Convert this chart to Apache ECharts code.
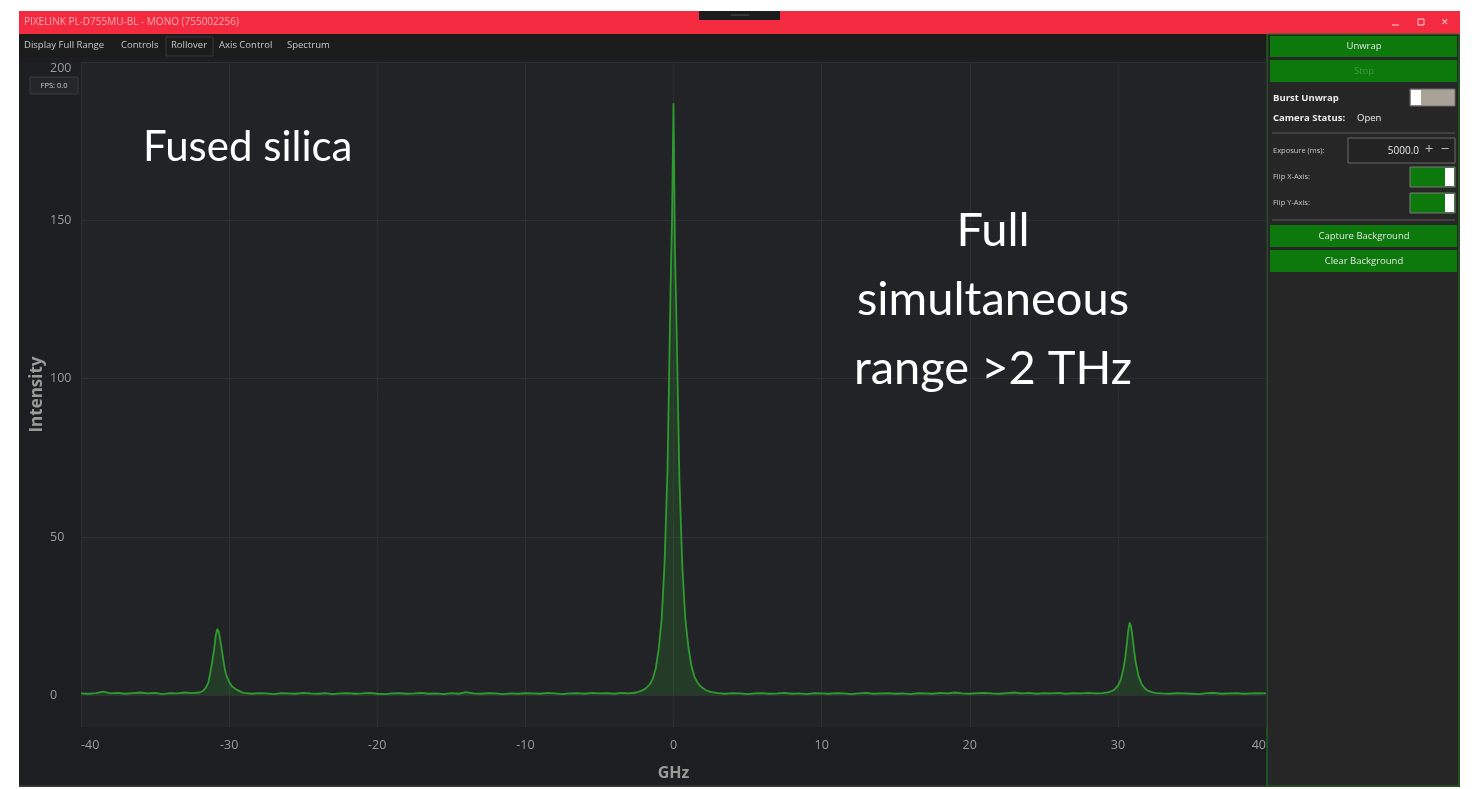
<!DOCTYPE html>
<html>
<head>
<meta charset="utf-8">
<title>Fused silica spectrum</title>
<script src="https://cdn.jsdelivr.net/npm/echarts@6/dist/echarts.min.js"></script>
<style>
html,body{margin:0;padding:0;background:#fff;}
#spectrum{width:1478px;height:789px;}
</style>
</head>
<body>
<div id="spectrum"></div>
<script>
var outerLeft = [[-40,0.6],[-39.5,0.5],[-39,0.7],[-38.5,1.2],[-38,0.6],[-37.5,0.8],[-37,0.5],[-36.5,0.7],
	[-36,0.9],[-35.5,0.6],[-35,0.8],[-34.5,0.4],[-34,0.7],[-33.5,0.6],[-33,0.9],[-32.5,0.7]];
var peakLeft = [[-32,0.9],[-31.8,1.3],[-31.6,2.2],[-31.4,4],[-31.3,6.5],[-31.2,9],[-31.1,12],[-31,15],[-30.9,19],
	[-30.8,21],[-30.7,20],[-30.6,17.5],[-30.5,14.5],[-30.4,11.5],[-30.3,8.5],[-30.2,6.5],[-30,4.2],[-29.8,2.8],
	[-29.5,1.8],[-29.2,1.1],[-29,0.8]];
var midLeft = [[-28.5,0.5],[-28,0.7],[-27.5,0.6],[-27,0.4],[-26.5,0.7],[-26,0.6],[-25.5,0.5],[-25,0.8],[-24.5,0.6],
	[-24,0.5],[-23.5,0.7],[-23,0.4],[-22.5,0.6],[-22,0.7],[-21.5,0.5],[-21,0.6],[-20.5,0.8],[-20,0.5],[-19.5,0.4],
	[-19,0.6],[-18.5,0.7],[-18,0.5],[-17.5,0.6],[-17,0.8],[-16.5,0.5],[-16,0.6],[-15.5,0.4],[-15,0.7],[-14.5,0.5],
	[-14,1.0],[-13.5,0.6],[-13,0.5],[-12.5,0.7],[-12,0.6],[-11.5,0.4],[-11,0.6],[-10.5,0.5],[-10,0.7],[-9.5,0.6],
	[-9,0.5],[-8.5,0.8],[-8,0.6],[-7.5,0.4],[-7,0.6],[-6.5,0.7],[-6,0.5],[-5.5,0.8],[-5,0.6],[-4.5,0.7],[-4,0.5],[-3.5,0.8]];
var peakCentre = [[-3,0.6],[-2.5,0.9],[-2.2,1.4],[-2,1.8],[-1.8,2.5],[-1.6,3.5],[-1.4,5.2],[-1.2,8.5],[-1,14.5],
	[-0.8,24],[-0.6,42],[-0.4,72],[-0.2,128],[-0.1,150],[0,187],[0.1,140],[0.2,118],[0.4,68],[0.6,40],[0.8,24],
	[1,15.5],[1.2,9.5],[1.4,6],[1.6,4.2],[1.8,3],[2,2.2],[2.2,1.6],[2.5,1.1],[3,0.7]];
var midRight = [[3.5,0.5],[4,0.7],[4.5,0.6],[5,0.4],[5.5,0.6],[6,0.7],[6.5,0.5],[7,0.6],[7.5,0.8],[8,0.5],[8.5,0.6],
	[9,0.4],[9.5,0.7],[10,0.6],[10.5,0.5],[11,0.7],[11.5,0.6],[12,0.4],[12.5,0.6],[13,0.8],[13.5,0.5],[14,0.6],
	[14.5,0.7],[15,0.5],[15.5,0.6],[16,0.4],[16.5,0.7],[17,0.6],[17.5,0.5],[18,0.8],[18.5,0.6],[19,0.9],[19.5,0.6],
	[20,0.5],[20.5,0.7],[21,0.8],[21.5,0.6],[22,0.5],[22.5,0.7],[23,0.9],[23.5,0.6],[24,0.8],[24.5,0.5],[25,0.7],
	[25.5,0.6],[26,0.8],[26.5,0.5],[27,0.7],[27.5,0.6],[28,0.8],[28.5,0.6]];
var peakRight = [[29,0.7],[29.4,1],[29.7,1.6],[30,3],[30.2,5],[30.4,9],[30.5,12],[30.6,16],[30.7,20.5],[30.8,23],
	[30.9,21.5],[31,18],[31.1,14],[31.2,10.5],[31.4,6],[31.6,3.6],[31.8,2.3],[32,1.5],[32.3,1],[32.6,0.7]];
var outerRight = [[33,0.6],[33.5,0.5],[34,0.7],[34.5,0.6],[35,0.5],[35.5,0.4],[36,0.7],[36.5,0.8],[37,0.5],
	[37.5,0.6],[38,0.7],[38.5,0.5],[39,0.6],[39.5,0.7],[40,0.6]];

var xTicks = [-40,-30,-20,-10,0,10,20,30,40];
var yTicks = [0,50,100,150,200];

var spectrum = [].concat(outerLeft, peakLeft, midLeft, peakCentre, midRight, peakRight, outerRight);

var uiFont = '"Open Sans", "Noto Sans", sans-serif';

function label(x, y, txt, size, color, align, weight){
	return {
		type:'text', silent:true, z:50,
		style:{x:x, y:y, text:txt, fontSize:size, fill:color, fontFamily:uiFont,
			align:align||'left', verticalAlign:'middle', fontWeight:weight||'normal'}
	};
}
function box(x, y, w, h, fill, stroke, z){
	return {
		type:'rect', silent:true, z:(z==null?-5:z),
		shape:{x:x, y:y, width:w, height:h},
		style:{fill:fill, stroke:stroke||null, lineWidth:1}
	};
}
function rule(x1, y1, x2, y2, color, z){
	return {
		type:'line', silent:true, z:(z==null?40:z),
		shape:{x1:x1, y1:y1, x2:x2, y2:y2},
		style:{stroke:color, lineWidth:1}
	};
}

function buildChrome(){
	var g = [];
	// window frame
	g.push(box(19, 11, 1441, 776, '#1d1e21', null, -10));
	g.push(box(19, 11, 1441, 23, '#f42b40', null, -4));
	g.push(box(699, 11, 81, 9, '#1c1c1e', null, -3));
	g.push(rule(731, 15, 749, 15, '#555'));
	g.push(label(24, 22.5, 'PIXELINK PL-D755MU-BL - MONO (755002256)', 10, '#f8a9b2'));
	g.push(rule(1392, 25, 1399, 25, '#f3d0d4'));
	g.push(box(1418, 19, 6, 6, null, '#f3d0d4', 45));
	g.push(label(1445, 22.5, '✕', 9, '#f3d0d4', 'center'));
	// menu
	g.push(box(19, 34, 1248, 24, '#1b1b1c', null, -4));
	g.push(label(24, 45.5, 'Display Full Range', 9.5, '#c8c8c8'));
	g.push(label(121, 45.5, 'Controls', 9.5, '#c8c8c8'));
	g.push(box(166, 37, 47, 19, null, '#38393c', 45));
	g.push(label(171, 45.5, 'Rollover', 9.5, '#c8c8c8'));
	g.push(label(219, 45.5, 'Axis Control', 9.5, '#c8c8c8'));
	g.push(label(287, 45.5, 'Spectrum', 9.5, '#c8c8c8'));
	g.push(rule(19, 786, 1267, 786, '#4a4a4a'));
	// fps
	g.push(box(30, 77, 48, 17, '#25262a', '#3a3b3f', 45));
	g.push(label(54, 85.5, 'FPS: 0.0', 7.5, '#d0d0d0', 'center'));
	// side panel
	g.push(box(1267, 34, 192, 752, '#262626', '#1f7f1f', -4));
	g.push(box(1270, 36, 187, 21, '#0d790d', null, 45));
	g.push(label(1364, 46.5, 'Unwrap', 9.5, '#e4e4e4', 'center'));
	g.push(box(1270, 60, 187, 22, '#0d790d', null, 45));
	g.push(label(1364, 71, 'Stop', 9.5, '#3d9a3d', 'center'));
	g.push(label(1273, 98, 'Burst Unwrap', 9.5, '#ececec', 'left', 'bold'));
	g.push(box(1410, 89, 45, 17, '#a9a397', '#6a6a6a', 45));
	g.push(box(1411, 90, 10, 15, '#ffffff', null, 46));
	g.push(label(1273, 118, 'Camera Status:', 9.5, '#ececec', 'left', 'bold'));
	g.push(label(1357, 118, 'Open', 9.5, '#ececec'));
	g.push(rule(1272, 133, 1455, 133, '#5a5a5a'));
	g.push(label(1273, 151, 'Exposure (ms):', 7.5, '#c8c8c8'));
	g.push(box(1348, 138, 107, 25, '#232323', '#6a6a6a', 45));
	g.push(label(1419, 151, '5000.0', 10, '#e8e8e8', 'right'));
	g.push(label(1429, 150, '+', 15, '#bbbbbb', 'center'));
	g.push(label(1445, 150, '−', 15, '#bbbbbb', 'center'));
	g.push(label(1273, 177, 'Flip X-Axis:', 7.5, '#c8c8c8'));
	g.push(box(1410, 167, 45, 20, '#0d790d', '#7a7a7a', 45));
	g.push(box(1445, 168, 9, 18, '#ffffff', null, 46));
	g.push(label(1273, 203, 'Flip Y-Axis:', 7.5, '#c8c8c8'));
	g.push(box(1410, 193, 45, 20, '#0d790d', '#7a7a7a', 45));
	g.push(box(1445, 194, 9, 18, '#ffffff', null, 46));
	g.push(rule(1272, 220, 1455, 220, '#5a5a5a'));
	g.push(box(1270, 225, 187, 22, '#0d790d', null, 45));
	g.push(label(1364, 236.5, 'Capture Background', 9.5, '#e4e4e4', 'center'));
	g.push(box(1270, 250, 187, 22, '#0d790d', null, 45));
	g.push(label(1364, 261.5, 'Clear Background', 9.5, '#e4e4e4', 'center'));
	// annotations on the plot
	var big = {type:'text', silent:true, z:60};
	g.push(echarts.util.merge({style:{x:143, y:147, text:'Fused silica', fontSize:42, fill:'#ffffff',
		fontFamily:'Lato, sans-serif', verticalAlign:'middle'}}, big));
	g.push(echarts.util.merge({style:{x:993, y:300, text:'Full\nsimultaneous\nrange >2 THz', fontSize:47,
		lineHeight:69, fill:'#ffffff', fontFamily:'Lato, sans-serif', align:'center', verticalAlign:'middle'}}, big));
	return g;
}

function setChart(){
	var myChart = echarts.init(document.getElementById('spectrum'));
	myChart.setOption({
		animation:false,
		backgroundColor:'#ffffff',
		grid:{
			left:81, right:212, top:62, bottom:62,
			show:true, backgroundColor:'#222327', borderWidth:0,
			outerBoundsMode:'none'
		},
		xAxis:{
			type:'value', min:-40, max:40, interval:10,
			name:'GHz', nameLocation:'middle', nameGap:38,
			nameTextStyle:{color:'#9a9a9a', fontSize:16, fontWeight:'bold', fontFamily:uiFont},
			axisLine:{show:false}, axisTick:{show:false},
			axisLabel:{color:'#9c9c9c', fontSize:12.5, margin:12, fontFamily:uiFont,
				customValues:xTicks, alignMinLabel:'left', alignMaxLabel:'right'},
			splitLine:{lineStyle:{color:'#2e2f33', width:1}}
		},
		yAxis:{
			type:'value', min:-10, max:200,
			name:'Intensity', nameLocation:'middle', nameGap:35, nameRotate:90, nameMoveOverlap:false,
			nameTextStyle:{color:'#9a9a9a', fontSize:17, fontWeight:'bold', fontFamily:uiFont},
			axisLine:{show:false},
			axisTick:{show:false, customValues:yTicks},
			axisLabel:{color:'#9c9c9c', fontSize:12.5, margin:31, align:'left', fontFamily:uiFont,
				customValues:yTicks, verticalAlignMaxLabel:'top'},
			splitLine:{lineStyle:{color:'#2e2f33', width:1}}
		},
		series:[{
			type:'line', data:spectrum, showSymbol:false, smooth:false,
			lineStyle:{color:'#2f9a2f', width:1.8},
			itemStyle:{color:'#2f9a2f'},
			areaStyle:{color:'rgba(42,120,42,0.42)'}
		}],
		graphic:buildChrome()
	});
}

setChart();
</script>
</body>
</html>
